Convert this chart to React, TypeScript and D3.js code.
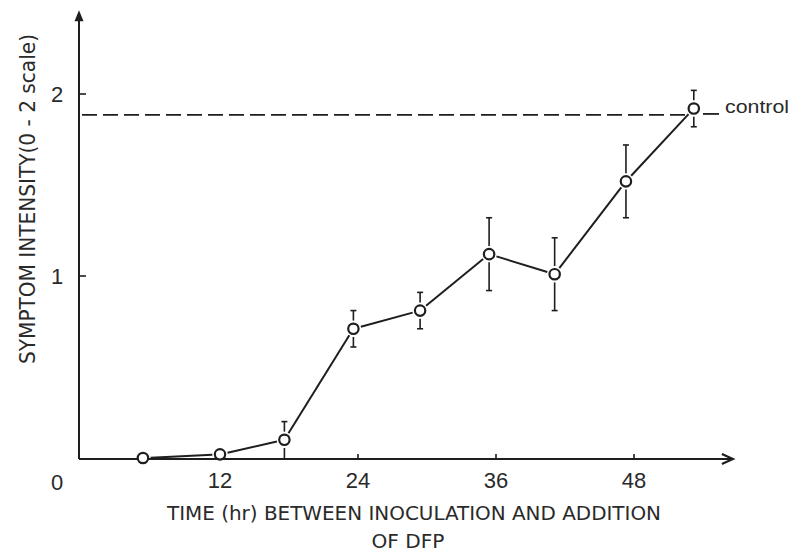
import React from "react";
import * as d3 from "d3";

const times = [5.3, 12, 17.6, 23.6, 29.4, 35.4, 41.1, 47.3, 53.2];
const intensity = [0, 0.02, 0.1, 0.71, 0.81, 1.12, 1.01, 1.52, 1.92];
const errors = [0, 0, 0.1, 0.1, 0.1, 0.2, 0.2, 0.2, 0.1];
const controlValue = 1.885;
const xTicks = [12, 24, 36, 48];
const xTickLabels = ["12", "24", "36", "48"];
const yTicks = [1, 2];
const yTickLabels = ["1", "2"];
const originLabel = "0";
const yTitle = "SYMPTOM INTENSITY(0 - 2 scale)";
const xTitle1 = "TIME (hr) BETWEEN INOCULATION AND ADDITION";
const xTitle2 = "OF DFP";
const controlLabel = "control";

const W = 800;
const H = 554;
const INK = "#1e1e1e";
const R = 5.2;

export default function App() {
  const x = d3.scaleLinear().domain([0, 48]).range([82, 634]);
  const y = d3.scaleLinear().domain([0, 2]).range([458, 94]);
  const axisX0 = 79;
  const axisY0 = y(0) + 1;
  const xEnd = x(56.6);
  const yTop = y(2.46);

  const pts = times.map((t, i) => ({ cx: x(t), cy: y(intensity[i]), e: errors[i], v: intensity[i] }));

  const segs: { x1: number; y1: number; x2: number; y2: number }[] = [];
  for (let i = 0; i < pts.length - 1; i++) {
    const a = pts[i], b = pts[i + 1];
    const dx = b.cx - a.cx, dy = b.cy - a.cy;
    const len = Math.hypot(dx, dy);
    const g = R + 2.5;
    segs.push({
      x1: a.cx + (dx / len) * g,
      y1: a.cy + (dy / len) * g,
      x2: b.cx - (dx / len) * g,
      y2: b.cy - (dy / len) * g,
    });
  }

  const last = pts[pts.length - 1];
  const cy = y(controlValue);
  const labelFont = "'DejaVu Sans Condensed', 'Liberation Sans Narrow', 'DejaVu Sans', sans-serif";
  const numFont = "'Liberation Sans', Arial, sans-serif";

  return (
    <svg width={W} height={H} style={{ position: "absolute", left: 0, top: 0, background: "#fff" }}>
      <rect x={0} y={0} width={W} height={H} fill="#fff" />
      {/* y axis */}
      <line x1={axisX0} y1={axisY0} x2={axisX0} y2={yTop + 8} stroke={INK} strokeWidth={2} />
      <path d={`M${axisX0 - 4.5},${yTop + 11} L${axisX0},${yTop} L${axisX0 + 4.5},${yTop + 11} Z`} fill={INK} />
      {/* x axis */}
      <line x1={axisX0} y1={axisY0} x2={xEnd - 1} y2={axisY0} stroke={INK} strokeWidth={2} />
      <path
        d={`M${xEnd - 11},${axisY0 - 5} L${xEnd},${axisY0} L${xEnd - 11},${axisY0 + 5}`}
        fill="none"
        stroke={INK}
        strokeWidth={2.2}
      />
      {/* ticks */}
      {yTicks.map((v) => (
        <line key={"yt" + v} x1={axisX0} x2={axisX0 + 7} y1={y(v)} y2={y(v)} stroke={INK} strokeWidth={1.6} />
      ))}
      {xTicks.map((t) => (
        <line key={"xt" + t} x1={x(t)} x2={x(t)} y1={axisY0} y2={axisY0 - 5} stroke={INK} strokeWidth={1.6} />
      ))}
      {/* tick labels */}
      {yTicks.map((v, i) => (
        <text key={"yl" + v} x={57} y={y(v)} dy="0.36em" textAnchor="middle" fontFamily={numFont} fontSize={22} fill="#2a2a2a">
          {yTickLabels[i]}
        </text>
      ))}
      <text x={57} y={482} dy="0.36em" textAnchor="middle" fontFamily={numFont} fontSize={22} fill="#2a2a2a">
        {originLabel}
      </text>
      {xTicks.map((t, i) => (
        <text key={"xl" + t} x={x(t)} y={480} dy="0.36em" textAnchor="middle" fontFamily={numFont} fontSize={22} fill="#2a2a2a">
          {xTickLabels[i]}
        </text>
      ))}
      {/* control */}
      <line x1={axisX0 + 3} x2={last.cx - R - 3} y1={cy} y2={cy} stroke={INK} strokeWidth={1.8} strokeDasharray="15 6" />
      <line x1={last.cx + R + 4} x2={last.cx + R + 20} y1={cy - 1} y2={cy - 1} stroke={INK} strokeWidth={1.8} />
      <text x={725} y={113} fontFamily={numFont} fontSize={18} fill="#2a2a2a" textLength={64} lengthAdjust="spacingAndGlyphs">
        {controlLabel}
      </text>
      {/* connecting line */}
      {segs.map((s, i) => (
        <line key={"s" + i} x1={s.x1} y1={s.y1} x2={s.x2} y2={s.y2} stroke={INK} strokeWidth={2} />
      ))}
      {/* error bars */}
      {pts.map((p, i) =>
        p.e > 0 ? (
          <g key={"e" + i} stroke={INK} strokeWidth={1.6}>
            <line x1={p.cx} x2={p.cx} y1={p.cy - R - 3} y2={y(p.v + p.e)} />
            <line x1={p.cx - 3} x2={p.cx + 3} y1={y(p.v + p.e)} y2={y(p.v + p.e)} />
            <line x1={p.cx} x2={p.cx} y1={p.cy + R + 3} y2={Math.min(y(p.v - p.e), axisY0)} />
            {y(p.v - p.e) < axisY0 - 1 ? (
              <line x1={p.cx - 3} x2={p.cx + 3} y1={y(p.v - p.e)} y2={y(p.v - p.e)} />
            ) : null}
          </g>
        ) : null
      )}
      {/* points */}
      {pts.map((p, i) => (
        <circle key={"c" + i} cx={p.cx} cy={p.cy} r={R} fill="#fff" stroke={INK} strokeWidth={2.2} />
      ))}
      {/* titles */}
      <text
        transform={`translate(27,199) rotate(-90)`}
        textAnchor="middle"
        dy="0.36em"
        fontFamily={labelFont}
        fontSize={21}
        fill="#2a2a2a"
        textLength={330}
        lengthAdjust="spacingAndGlyphs"
      >
        {yTitle}
      </text>
      <text x={414} y={513} dy="0.36em" textAnchor="middle" fontFamily={labelFont} fontSize={20} fill="#2a2a2a" textLength={494} lengthAdjust="spacingAndGlyphs">
        {xTitle1}
      </text>
      <text x={408} y={541} dy="0.36em" textAnchor="middle" fontFamily={labelFont} fontSize={20} fill="#2a2a2a" textLength={73} lengthAdjust="spacingAndGlyphs">
        {xTitle2}
      </text>
    </svg>
  );
}
